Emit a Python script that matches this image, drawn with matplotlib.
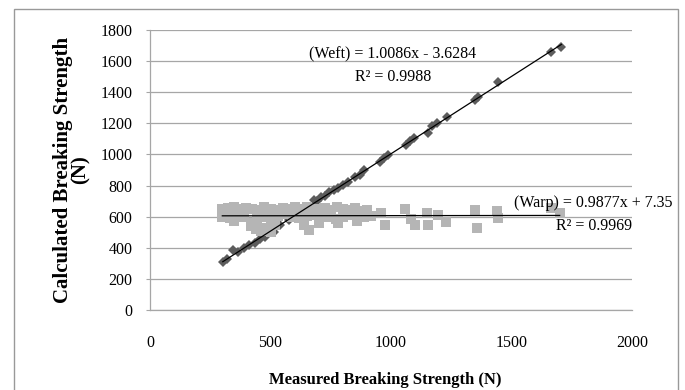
import numpy as np
import matplotlib.pyplot as plt
from matplotlib.patches import Rectangle

# measured vs calculated breaking strength (N)
weft_x = [302, 318, 345, 365, 391, 412, 434, 455, 477, 495, 513, 540, 578, 600,
          621, 650, 679, 695, 708, 725, 744, 762, 780, 800, 823, 850, 873, 888,
          953, 970, 989, 1061, 1080, 1097, 1155, 1172, 1191, 1234, 1349, 1360,
          1443, 1666, 1707]
weft_y = [311, 330, 386, 372, 397, 420, 429, 455, 471, 500, 503, 545, 579, 600,
          622, 655, 707, 700, 729, 735, 761, 770, 782, 805, 825, 855, 868, 900,
          954, 975, 997, 1061, 1085, 1104, 1136, 1180, 1200, 1243, 1350, 1370,
          1468, 1661, 1693]

warp_x = [300, 325, 350, 375, 400, 425, 450, 475, 500, 525, 550, 575, 600, 625,
          650, 675, 700, 725, 750, 775, 800, 825, 850, 875, 900,
          300, 330, 360, 390, 420, 445, 470, 500, 530, 560, 590, 620, 650, 680,
          710, 740, 770, 800, 830, 860, 890, 915,
          350, 420, 440, 460, 480, 500, 520, 640, 660, 700, 780, 860,
          960, 975, 1060, 1085, 1100, 1150, 1155, 1195, 1230, 1350, 1355,
          1440, 1445, 1665, 1700]
warp_y = [648, 655, 660, 650, 658, 652, 645, 660, 650, 640, 655, 648, 660, 652,
          665, 645, 650, 658, 640, 660, 648, 642, 655, 638, 645,
          600, 590, 610, 595, 560, 585, 600, 590, 605, 615, 600, 590, 605, 610,
          595, 600, 585, 600, 610, 590, 600, 605,
          575, 540, 520, 505, 530, 500, 545, 545, 515, 560, 560, 570,
          625, 548, 650, 585, 548, 625, 548, 612, 566, 643, 527,
          637, 592, 655, 622]

weft_label = "(Weft) = 1.0086x - 3.6284"
weft_r2 = "R\u00b2 = 0.9988"
warp_label = "(Warp) = 0.9877x + 7.35"
warp_r2 = "R\u00b2 = 0.9969"

plt.rcParams['font.family'] = ['Liberation Serif', 'DejaVu Serif']

fig = plt.figure(figsize=(6.85, 3.9), dpi=100)
ax = fig.add_axes([0.219, 0.2051, 0.7036, 0.7179])

grid_c = '#a6a6a6'

ax.plot(weft_x, weft_y, 'D', color='#5c5c5c', markersize=5, markeredgewidth=0, zorder=3)
ax.plot(warp_x, warp_y, 's', color='#b5b5b5', markersize=7.5, markeredgewidth=0, zorder=4)

# linear trendlines over the data range
for xs, ys in [(weft_x, weft_y), (warp_x, warp_y)]:
    k, b = np.polyfit(xs, ys, 1)
    xx = np.array([min(xs), max(xs)])
    ax.plot(xx, k * xx + b, color='black', linewidth=0.9, zorder=5)

ax.set_xlim(0, 2000)
ax.set_ylim(0, 1800)
ax.set_xticks(np.arange(0, 2001, 500))
ax.set_yticks(np.arange(0, 1801, 200))
ax.yaxis.grid(True, color=grid_c, linewidth=0.9)
ax.set_axisbelow(True)
for s in ['top', 'right']:
    ax.spines[s].set_visible(False)
for s in ['left', 'bottom']:
    ax.spines[s].set_color(grid_c)
    ax.spines[s].set_linewidth(0.9)
ax.tick_params(axis='y', length=3, color=grid_c, pad=9.5, labelsize=11.5)
ax.tick_params(axis='x', length=0, pad=18, labelsize=11.5)

ax.text(1008, 1646, weft_label, ha='center', va='center', fontsize=11.5, zorder=6)
ax.text(1008, 1498, weft_r2, ha='center', va='center', fontsize=11.5, zorder=6)
ax.text(1838, 688, warp_label, ha='center', va='center', fontsize=11.5, zorder=6, clip_on=False)
ax.text(1842, 540, warp_r2, ha='center', va='center', fontsize=11.5, zorder=6, clip_on=False)

fig.text(0.105, 0.564, "Calculated Breaking Strength\n(N)", rotation=90, ha='center',
         va='center', multialignment='center', fontsize=15, fontweight='bold', linespacing=0.8)
fig.text(0.562, 0.026, "Measured Breaking Strength (N)", ha='center', va='center',
         fontsize=12, fontweight='bold')

# outer chart border
fig.patches.append(Rectangle((14 / 685, -0.1), 664 / 685, 1.076, transform=fig.transFigure,
                             fill=False, edgecolor='#999999', linewidth=1))

fig.savefig('out.png', dpi=100)
